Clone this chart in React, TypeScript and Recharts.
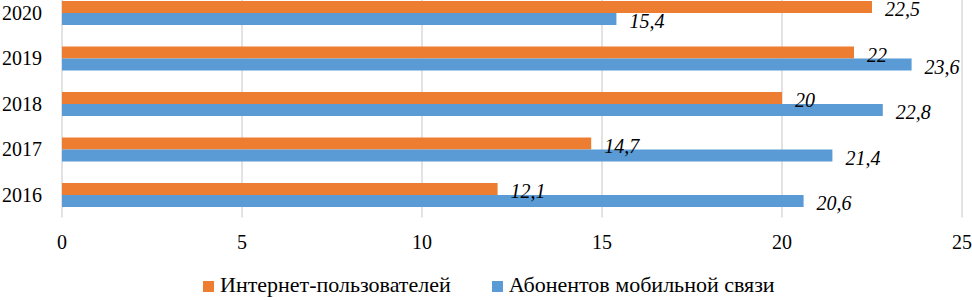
import { BarChart, Bar, XAxis, YAxis, CartesianGrid, LabelList, Legend } from "recharts";

// Годы сверху вниз, как на исходной диаграмме
const years = ["2020", "2019", "2018", "2017", "2016"];
const internetUsers = [22.5, 22, 20, 14.7, 12.1];
const mobileSubs = [15.4, 23.6, 22.8, 21.4, 20.6];
const xTicks = [0, 5, 10, 15, 20, 25];

const SERIES = [
  { key: "internet", name: "Интернет-пользователей", color: "#ED7D31" },
  { key: "mobile", name: "Абонентов мобильной связи", color: "#5B9BD5" },
];

const FONT = "Liberation Serif";

const rows = years.map((y, i) => ({
  year: y,
  internet: internetUsers[i],
  mobile: mobileSubs[i],
}));

const fmt = (v: any) => String(v).replace(".", ",");

function LegendBox() {
  return (
    <div style={{ display: "flex", paddingLeft: 203, height: 24, lineHeight: "24px", fontFamily: FONT, fontSize: 22, color: "#000" }}>
      {SERIES.map((s, i) => (
        <div key={s.key} style={{ display: "flex", alignItems: "center", marginRight: i === 0 ? 41 : 0 }}>
          <span style={{ width: 11, height: 11, background: s.color, display: "inline-block", marginRight: 6, marginTop: 3 }} />
          <span>{s.name}</span>
        </div>
      ))}
    </div>
  );
}

export default function App() {
  return (
    <div style={{ position: "absolute", left: 0, top: -10, width: 972, height: 310, background: "#fff", fontFamily: FONT }}>
      <BarChart
        width={972}
        height={310}
        data={rows}
        layout="vertical"
        margin={{ top: 0, right: 10, left: 0, bottom: 0 }}
        barSize={12}
        barGap={0}
      >
        <CartesianGrid horizontal={false} stroke="#D9D9D9" strokeWidth={1.5} />
        <XAxis
          type="number"
          domain={[0, 25]}
          ticks={xTicks}
          height={82.5}
          axisLine={false}
          tickLine={false}
          tickSize={0}
          tickMargin={17}
          interval={0}
          tick={{ fontSize: 20, fill: "#000", fontFamily: FONT }}
        />
        <YAxis
          type="category"
          dataKey="year"
          width={62}
          axisLine={false}
          tickLine={false}
          tickSize={0}
          tickMargin={20}
          tick={{ fontSize: 20, fill: "#000", fontFamily: FONT }}
        />
        <Legend layout="horizontal" verticalAlign="middle" wrapperStyle={{ top: 283, left: 0, width: 972 }} content={() => <LegendBox />} />
        {SERIES.map((s) => (
          <Bar key={s.key} dataKey={s.key} name={s.name} fill={s.color} isAnimationActive={false}>
            <LabelList
              dataKey={s.key}
              position="right"
              offset={13}
              dy={2}
              formatter={fmt}
              fontFamily={FONT}
              fontSize={20}
              fontStyle="italic"
              fill="#000"
            />
          </Bar>
        ))}
      </BarChart>
    </div>
  );
}
